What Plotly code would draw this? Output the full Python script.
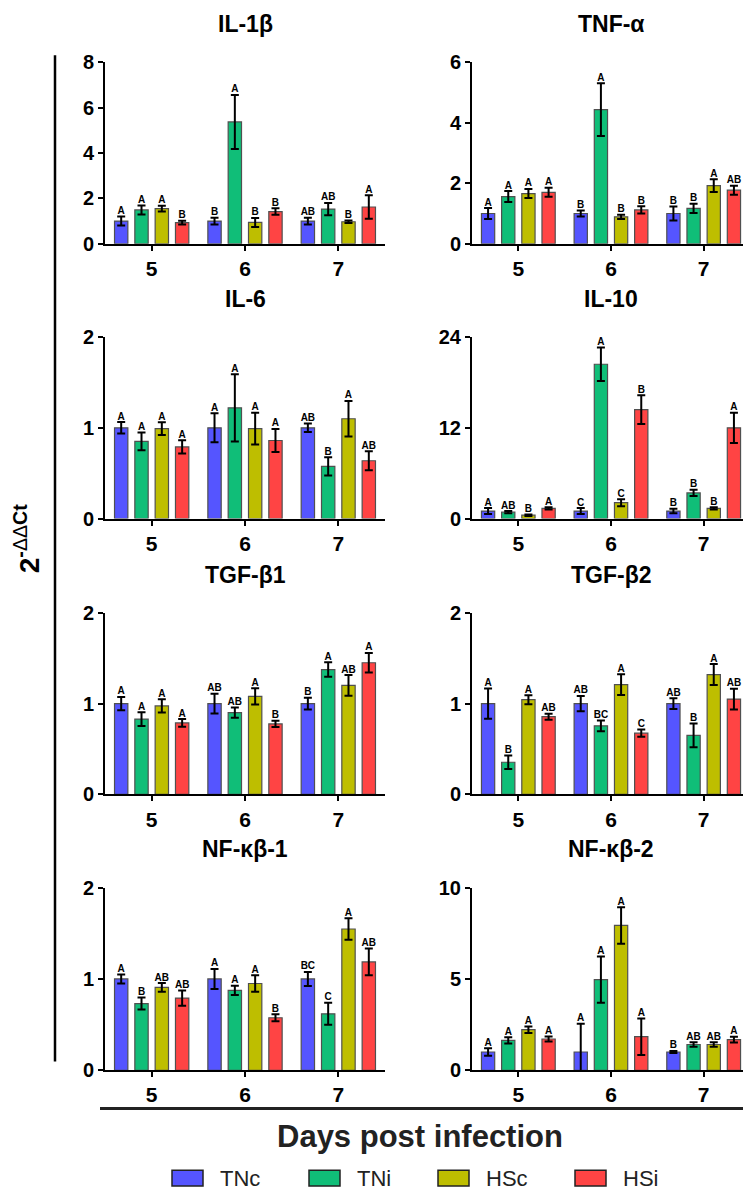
import plotly.graph_objects as go

# The page body has an 8px default margin, so the figure is drawn 8px in from the window edge.
OFF = 8
W, H = 751 - OFF, 1200 - OFF

days = ["5", "6", "7"]
groups = ["TNc", "TNi", "HSc", "HSi"]
colors = ["#5555FF", "#10BE78", "#BEBE00", "#FF4444"]

genes = ["IL-1β", "TNF-α", "IL-6", "IL-10", "TGF-β1", "TGF-β2", "NF-κβ-1", "NF-κβ-2"]

# values per group (TNc, TNi, HSc, HSi), each over days 5, 6, 7
il1b_mean = [[1.0, 1.0, 1.0], [1.49, 5.37, 1.53], [1.55, 0.94, 0.97], [0.93, 1.42, 1.62]]
il1b_err = [[0.2, 0.15, 0.15], [0.2, 1.19, 0.27], [0.13, 0.2, 0.06], [0.08, 0.14, 0.52]]
il1b_sig = [["A", "B", "AB"], ["A", "A", "AB"], ["A", "B", "B"], ["B", "B", "A"]]
il1b_ticks = [0, 2, 4, 6, 8]

tnfa_mean = [[1.0, 1.0, 1.0], [1.56, 4.43, 1.17], [1.66, 0.89, 1.92], [1.70, 1.12, 1.77]]
tnfa_err = [[0.18, 0.1, 0.23], [0.18, 0.87, 0.15], [0.15, 0.07, 0.21], [0.15, 0.12, 0.15]]
tnfa_sig = [["A", "B", "B"], ["A", "A", "B"], ["A", "B", "A"], ["A", "B", "AB"]]
tnfa_ticks = [0, 2, 4, 6]

il6_mean = [[1.0, 1.0, 1.0], [0.85, 1.22, 0.575], [0.99, 0.99, 1.10], [0.79, 0.86, 0.637]]
il6_err = [[0.063, 0.16, 0.047], [0.097, 0.37, 0.1], [0.07, 0.175, 0.196], [0.074, 0.127, 0.104]]
il6_sig = [["A", "A", "AB"], ["A", "A", "B"], ["A", "A", "A"], ["A", "A", "AB"]]
il6_ticks = [0, 1, 2]

il10_mean = [[1.0, 1.0, 1.0], [0.85, 20.4, 3.4], [0.45, 2.1, 1.34], [1.35, 14.4, 12.0]]
il10_err = [[0.4, 0.4, 0.3], [0.15, 2.2, 0.4], [0.1, 0.47, 0.15], [0.15, 1.9, 2.0]]
il10_sig = [["A", "C", "B"], ["AB", "A", "B"], ["B", "C", "B"], ["A", "B", "A"]]
il10_ticks = [0, 12, 24]

tgfb1_mean = [[1.0, 1.0, 1.0], [0.83, 0.90, 1.375], [0.975, 1.08, 1.2], [0.787, 0.776, 1.45]]
tgfb1_err = [[0.074, 0.11, 0.065], [0.076, 0.056, 0.08], [0.074, 0.09, 0.114], [0.043, 0.034, 0.108]]
tgfb1_sig = [["A", "AB", "B"], ["A", "AB", "A"], ["A", "A", "AB"], ["A", "B", "A"]]
tgfb1_ticks = [0, 1, 2]

tgfb2_mean = [[1.0, 1.0, 1.0], [0.354, 0.755, 0.65], [1.043, 1.21, 1.32], [0.856, 0.675, 1.05]]
tgfb2_err = [[0.166, 0.085, 0.058], [0.075, 0.058, 0.13], [0.05, 0.114, 0.116], [0.033, 0.04, 0.114]]
tgfb2_sig = [["A", "AB", "AB"], ["B", "BC", "B"], ["A", "A", "A"], ["AB", "C", "AB"]]
tgfb2_ticks = [0, 1, 2]

nfkb1_mean = [[1.0, 1.0, 1.0], [0.73, 0.875, 0.618], [0.907, 0.95, 1.547], [0.79, 0.575, 1.187]]
nfkb1_err = [[0.05, 0.11, 0.077], [0.066, 0.05, 0.12], [0.048, 0.09, 0.117], [0.084, 0.037, 0.147]]
nfkb1_sig = [["A", "A", "BC"], ["B", "A", "C"], ["AB", "A", "A"], ["AB", "B", "AB"]]
nfkb1_ticks = [0, 1, 2]

nfkb2_mean = [[1.0, 1.0, 1.0], [1.64, 4.96, 1.41], [2.22, 7.93, 1.41], [1.71, 1.84, 1.68]]
nfkb2_err = [[0.21, 1.55, 0.06], [0.17, 1.27, 0.12], [0.18, 1.0, 0.12], [0.14, 1.0, 0.16]]
nfkb2_sig = [["A", "A", "B"], ["A", "A", "AB"], ["A", "A", "AB"], ["A", "A", "A"]]
nfkb2_ticks = [0, 5, 10]

panels = [
    (il1b_mean, il1b_err, il1b_sig, il1b_ticks),
    (tnfa_mean, tnfa_err, tnfa_sig, tnfa_ticks),
    (il6_mean, il6_err, il6_sig, il6_ticks),
    (il10_mean, il10_err, il10_sig, il10_ticks),
    (tgfb1_mean, tgfb1_err, tgfb1_sig, tgfb1_ticks),
    (tgfb2_mean, tgfb2_err, tgfb2_sig, tgfb2_ticks),
    (nfkb1_mean, nfkb1_err, nfkb1_sig, nfkb1_ticks),
    (nfkb2_mean, nfkb2_err, nfkb2_sig, nfkb2_ticks),
]

FONT = "Liberation Sans, Arial, sans-serif"


def px_x(p):
    return (p - OFF) / W


def px_y(p):
    return 1 - (p - OFF) / H


col_px = [(105, 385), (472, 750)]
row_px = [(52, 237), (332, 517), (613, 798), (893, 1079)]

pitch = 0.2177
bar_w = 0.143

fig = go.Figure()
annotations = []
shapes = []

for k, (mean, err, sig, ticks) in enumerate(panels):
    r, c = divmod(k, 2)
    ax = "" if k == 0 else str(k + 1)
    xa, ya = "x" + ax, "y" + ax
    for g in range(4):
        xs = [d + (g - 1.5) * pitch for d in range(3)]
        fig.add_trace(go.Bar(
            x=xs, y=mean[g], width=bar_w, xaxis=xa, yaxis=ya,
            marker=dict(color=colors[g], line=dict(color="#505050", width=1.2)),
            error_y=dict(type="data", array=err[g], color="black", thickness=2, width=4),
            name=groups[g], showlegend=False, hoverinfo="skip",
        ))
        fig.add_trace(go.Scatter(
            x=xs, y=[m + e for m, e in zip(mean[g], err[g])], xaxis=xa, yaxis=ya,
            mode="text", text=sig[g], textposition="top center",
            textfont=dict(family=FONT, size=10, color="black", weight="bold"),
            showlegend=False, hoverinfo="skip", cliponaxis=False,
        ))
    x0, x1 = col_px[c]
    y0, y1 = row_px[r]
    fig.layout["xaxis" + ax] = dict(
        domain=[px_x(x0), px_x(x1)], anchor=ya, range=[-0.5, 2.5],
        tickvals=[0, 1, 2], ticktext=days, showline=True, linewidth=2, linecolor="black",
        ticks="outside", ticklen=5, tickwidth=2, tickcolor="black", showgrid=False, zeroline=False,
        tickfont=dict(family=FONT, size=21, color="black", weight="bold"), fixedrange=True,
    )
    fig.layout["yaxis" + ax] = dict(
        domain=[px_y(y1), px_y(y0)], anchor=xa, range=[0, ticks[-1]],
        tickvals=ticks, showline=True, linewidth=2, linecolor="black",
        ticks="outside", ticklen=5, tickwidth=2, tickcolor="black", showgrid=False, zeroline=False,
        tickfont=dict(family=FONT, size=20, color="black", weight="bold"), fixedrange=True,
    )
    annotations.append(dict(
        text=genes[k], xref="paper", yref="paper", x=px_x((x0 + x1) / 2), y=px_y(y0 - 39),
        showarrow=False, xanchor="center", yanchor="middle",
        font=dict(family=FONT, size=23, color="black", weight="bold"),
    ))

# y title
annotations.append(dict(
    text="<b>2</b><sup><b>-</b>ΔΔ<b>Ct</b></sup>", xref="paper", yref="paper",
    x=px_x(27), y=px_y(538), textangle=-90, showarrow=False,
    xanchor="center", yanchor="middle", font=dict(family=FONT, size=28, color="black"),
))
# x title
annotations.append(dict(
    text="Days post infection", xref="paper", yref="paper",
    x=px_x(420), y=px_y(1147), showarrow=False, xanchor="center", yanchor="middle",
    font=dict(family=FONT, size=31, color="#222222", weight="bold"),
))

shapes.append(dict(type="line", xref="paper", yref="paper", x0=px_x(55), x1=px_x(55),
                   y0=px_y(45), y1=px_y(1070), line=dict(color="black", width=2.5)))
shapes.append(dict(type="line", xref="paper", yref="paper", x0=px_x(100), x1=px_x(751),
                   y0=px_y(1118), y1=px_y(1118), line=dict(color="#222222", width=3)))

# legend
leg_box_x = [172, 309, 438, 575]
for g in range(4):
    bx = leg_box_x[g]
    shapes.append(dict(type="rect", xref="paper", yref="paper",
                       x0=px_x(bx), x1=px_x(bx + 31), y0=px_y(1197), y1=px_y(1181),
                       fillcolor=colors[g], line=dict(color="#222222", width=1.5)))
    annotations.append(dict(
        text=groups[g], xref="paper", yref="paper", x=px_x(bx + 46), y=px_y(1189),
        showarrow=False, xanchor="left", yanchor="middle",
        font=dict(family=FONT, size=22, color="#222222"),
    ))

fig.update_layout(
    width=W, height=H, autosize=False,
    margin=dict(l=0, r=0, t=0, b=0),
    paper_bgcolor="white", plot_bgcolor="white",
    barmode="overlay", showlegend=False,
    annotations=annotations, shapes=shapes,
    font=dict(family=FONT),
)

fig.write_html("out.html")
